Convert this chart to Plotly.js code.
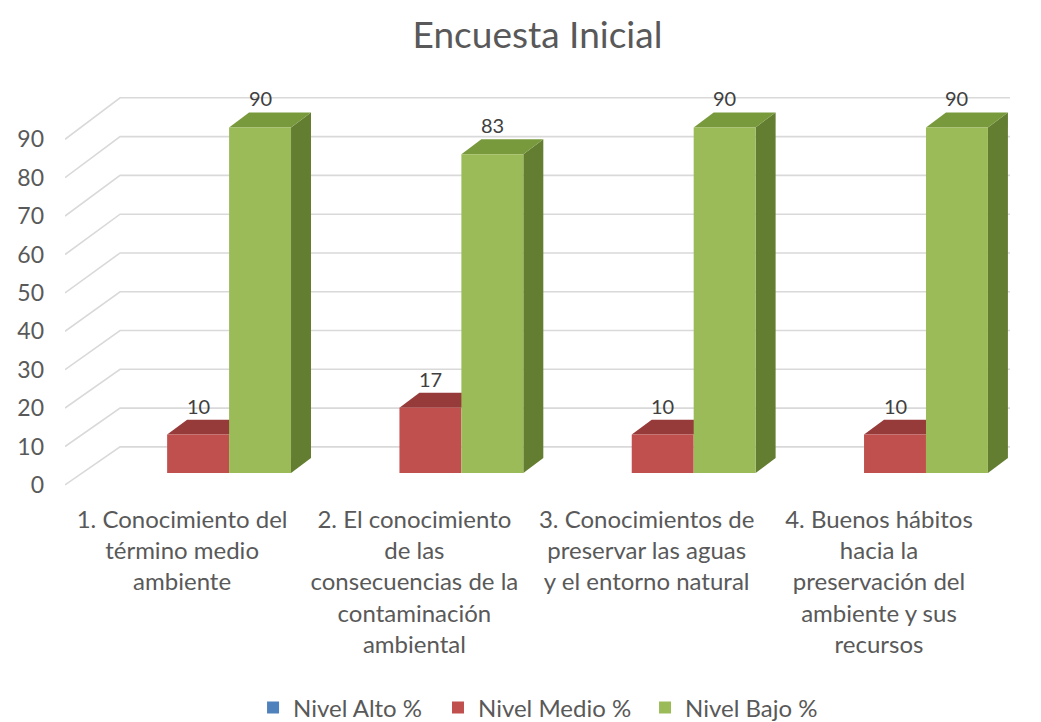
<!DOCTYPE html>
<html><head><meta charset="utf-8">
<script src="https://cdn.plot.ly/plotly-3.0.1.min.js"></script>
<style>html,body{margin:0;padding:0;background:#fff}</style>
</head><body><div id="chart" style="width:1041px;height:722px"></div>
<script>
const categories = [
  "1. Conocimiento del<br>término medio<br>ambiente",
  "2. El conocimiento<br>de las<br>consecuencias de la<br>contaminación<br>ambiental",
  "3. Conocimientos de<br>preservar las aguas<br>y el entorno natural",
  "4. Buenos hábitos<br>hacia la<br>preservación del<br>ambiente y sus<br>recursos"
];
const seriesNames = ["Nivel Alto %", "Nivel Medio %", "Nivel Bajo %"];
const nivelAlto = [0, 0, 0, 0];
const nivelMedio = [10, 17, 10, 10];
const nivelBajo = [90, 83, 90, 90];
const yTicks = [0, 10, 20, 30, 40, 50, 60, 70, 80, 90];

// styling / geometry constants
const COLORS = {alto: "#4F81BD", medio: "#C0504D", bajo: "#9BBB59",
  medioTop: "#963B3A", bajoTop: "#789A3D", bajoSide: "#637D31", grid: "#D9D9D9", text: "#595959"};
const BAR_W = 0.8 / 3;
const DX = 0.086, DY = 3.9;
const FRONT_OFF = -3.1, BACK_OFF = 6.8, BACK_SCALE = 1.01;
const X_LEFT = -0.573, X_BACK_LEFT = -0.336, X_RIGHT = 3.495;
const LABEL_SHIFT = -0.069;
const Y_RANGE = [-7.03, 102.34];
const LEGEND_X = [0.199, 0.3947, 0.6138];

const xPos = categories.map((c, i) => i);

const traces = [
  {type: "bar", name: seriesNames[0], x: xPos, y: nivelAlto, legend: "legend", marker: {color: COLORS.alto, line: {width: 0}}, hoverinfo: "skip"},
  {type: "bar", name: seriesNames[1], x: xPos, y: nivelMedio, legend: "legend2", marker: {color: COLORS.medio, line: {width: 0}}, hoverinfo: "skip"},
  {type: "bar", name: seriesNames[2], x: xPos, y: nivelBajo, legend: "legend3", marker: {color: COLORS.bajo, line: {width: 0}}, hoverinfo: "skip"}
];

const shapes = [];
yTicks.forEach(t => {
  const yf = t + FRONT_OFF, yb = BACK_OFF + t * BACK_SCALE;
  shapes.push({type: "path", xref: "x", yref: "y", layer: "below",
    path: `M ${X_LEFT},${yf} L ${X_BACK_LEFT},${yb} L ${X_RIGHT},${yb}`,
    line: {color: COLORS.grid, width: 1.6}});
});
function topFace(x0, x1, v, color) {
  return {type: "path", xref: "x", yref: "y", layer: "between", line: {width: 0}, fillcolor: color,
    path: `M ${x0},${v} L ${x1},${v} L ${x1 + DX},${v + DY} L ${x0 + DX},${v + DY} Z`};
}
function sideFace(x1, v, color) {
  return {type: "path", xref: "x", yref: "y", layer: "between", line: {width: 0}, fillcolor: color,
    path: `M ${x1},0 L ${x1},${v} L ${x1 + DX},${v + DY} L ${x1 + DX},${DY} Z`};
}
const annotations = [];
xPos.forEach(i => {
  const m0 = i - BAR_W / 2, m1 = i + BAR_W / 2;
  const b0 = m1, b1 = i + 1.5 * BAR_W;
  shapes.push(topFace(m0, m1, nivelMedio[i], COLORS.medioTop));
  shapes.push(sideFace(b1, nivelBajo[i], COLORS.bajoSide));
  shapes.push(topFace(b0, b1, nivelBajo[i], COLORS.bajoTop));
  annotations.push({x: i, y: nivelMedio[i] + DY, xref: "x", yref: "y", yanchor: "bottom",
    text: String(nivelMedio[i]), showarrow: false, font: {size: 20, color: "#404040", family: "Lato"}});
  annotations.push({x: i + BAR_W, y: nivelBajo[i] + DY, xref: "x", yref: "y", yanchor: "bottom",
    text: String(nivelBajo[i]), showarrow: false, font: {size: 20, color: "#404040", family: "Lato"}});
});

function legendAt(x) {
  return {orientation: "h", x: x, xanchor: "left", y: -0.495, yanchor: "middle",
    font: {size: 24, color: COLORS.text}, bgcolor: "rgba(0,0,0,0)"};
}

const layout = {
  width: 1041, height: 722, autosize: false,
  margin: {l: 65, r: 31, t: 80, b: 222, autoexpand: false},
  paper_bgcolor: "#fff", plot_bgcolor: "rgba(0,0,0,0)",
  font: {family: "Lato", color: COLORS.text},
  title: {text: "Encuesta Inicial", font: {size: 37, color: COLORS.text, family: "Lato"},
    x: 0.5, xref: "paper", xanchor: "center", y: 1 - 35 / 722, yref: "container", yanchor: "middle"},
  barmode: "group", bargap: 0.2, bargroupgap: 0,
  xaxis: {range: [X_LEFT, X_RIGHT], tickvals: xPos.map(i => i + LABEL_SHIFT), ticktext: categories,
    tickangle: 0, showgrid: false, zeroline: false, showline: false, ticks: "",
    tickfont: {size: 24, color: COLORS.text}, ticklabelstandoff: 3, automargin: false},
  yaxis: {range: Y_RANGE, tickvals: yTicks.map(t => t + FRONT_OFF), ticktext: yTicks.map(String),
    showgrid: false, zeroline: false, showline: false, ticks: "",
    tickfont: {size: 23, color: COLORS.text}, ticklabelstandoff: 20, automargin: false},
  legend: legendAt(LEGEND_X[0]),
  legend2: legendAt(LEGEND_X[1]),
  legend3: legendAt(LEGEND_X[2]),
  shapes: shapes,
  annotations: annotations,
  showlegend: true
};

Plotly.newPlot("chart", traces, layout, {staticPlot: true, displayModeBar: false});
</script>
</body></html>
